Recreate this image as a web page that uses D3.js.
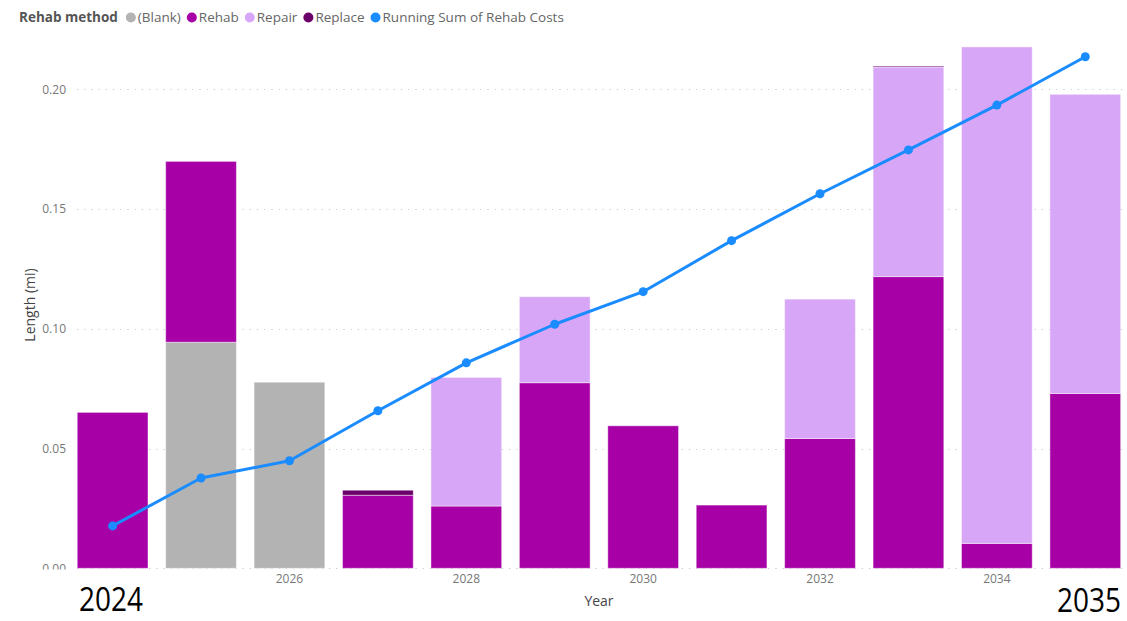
<!DOCTYPE html>
<html>
<head>
<meta charset="utf-8">
<script src="https://cdn.jsdelivr.net/npm/d3@7"></script>
<style>
  html, body { margin: 0; padding: 0; background: #fff; }
  svg { display: block; font-family: "Open Sans", "Noto Sans", sans-serif; }
</style>
</head>
<body>
<svg id="chart" width="1127" height="621"></svg>
<script>
// Years on the category axis
const years = [2024, 2025, 2026, 2027, 2028, 2029, 2030, 2031, 2032, 2033, 2034, 2035];

// Length (mi) per rehab method, one entry per year
const blank   = [0, 0.0944, 0.0777, 0, 0, 0, 0, 0, 0, 0, 0, 0];
const rehab   = [0.0651, 0.0755, 0, 0.0305, 0.0260, 0.0775, 0.0595, 0.0264, 0.0542, 0.1218, 0.0104, 0.0730];
const repair  = [0, 0, 0, 0, 0.0537, 0.0359, 0, 0, 0.0582, 0.0875, 0.2073, 0.1249];
const replace = [0, 0, 0, 0.0021, 0, 0, 0, 0, 0, 0.0004, 0, 0];

// Running sum of rehab costs
const runningSum = [0.0177, 0.0377, 0.0449, 0.0658, 0.0858, 0.1019, 0.1155, 0.1368, 0.1564, 0.1747, 0.1934, 0.2136];

// Axis ticks
const yTicks = [0, 0.05, 0.10, 0.15, 0.20];
const xTickYears = [2026, 2028, 2030, 2032, 2034];

const methods = ["(Blank)", "Rehab", "Repair", "Replace"];
const methodColors = ["#b3b3b3", "#a600a6", "#d7a6f6", "#6b006b"];
const lineColor = "#1a8cff";

const svg = d3.select("#chart");

const x = d3.scaleBand()
  .domain(years)
  .range([68.4, 1129.5])
  .paddingInner(0.2)
  .paddingOuter(0.1);

const y = d3.scaleLinear()
  .domain([0, 0.2])
  .range([568.3, 89.3]);

// Gridlines (dotted)
svg.append("g")
  .selectAll("line")
  .data(yTicks)
  .join("line")
  .attr("x1", 77)
  .attr("x2", 1127)
  .attr("y1", d => Math.round(y(d)) + 0.5)
  .attr("y2", d => Math.round(y(d)) + 0.5)
  .attr("stroke", "#c8c8c8")
  .attr("stroke-width", 1)
  .attr("stroke-dasharray", "1.2,6");

// Stacked bars
const rows = years.map((yr, i) => ({
  year: yr,
  "(Blank)": blank[i],
  "Rehab": rehab[i],
  "Repair": repair[i],
  "Replace": replace[i]
}));
const stack = d3.stack().keys(methods)(rows);

svg.append("g")
  .selectAll("g")
  .data(stack)
  .join("g")
  .attr("fill", (d, i) => methodColors[i])
  .selectAll("rect")
  .data(d => d.filter(s => s[1] - s[0] > 0))
  .join("rect")
  .attr("x", d => x(d.data.year))
  .attr("width", x.bandwidth())
  .attr("y", d => y(d[1]))
  .attr("height", d => y(d[0]) - y(d[1]))
  .attr("stroke", "rgba(255,255,255,0.45)")
  .attr("stroke-width", 1);

// Y axis labels
const yAxis = d3.axisLeft(y)
  .tickValues(yTicks)
  .tickFormat(d3.format(".2f"))
  .tickSize(0)
  .tickPadding(0);
const yg = svg.append("g")
  .attr("transform", "translate(66,0)")
  .call(yAxis);
yg.select(".domain").remove();
yg.selectAll("text")
  .attr("fill", "#777")
  .attr("font-size", 12)
  .attr("font-family", "\"Open Sans\", sans-serif");

// X axis labels
const xAxis = d3.axisBottom(x)
  .tickValues(xTickYears)
  .tickSize(0)
  .tickPadding(0);
const xg = svg.append("g")
  .attr("transform", "translate(0,574)")
  .call(xAxis);
xg.select(".domain").remove();
xg.selectAll("text")
  .attr("fill", "#777")
  .attr("font-size", 12)
  .attr("font-family", "\"Open Sans\", sans-serif");

// Running sum line
const line = d3.line()
  .x((d, i) => x(years[i]) + x.bandwidth() / 2)
  .y(d => y(d));

svg.append("path")
  .datum(runningSum)
  .attr("fill", "none")
  .attr("stroke", lineColor)
  .attr("stroke-width", 3)
  .attr("stroke-linejoin", "round")
  .attr("d", line);

svg.append("g")
  .selectAll("circle")
  .data(runningSum)
  .join("circle")
  .attr("cx", (d, i) => x(years[i]) + x.bandwidth() / 2)
  .attr("cy", d => y(d))
  .attr("r", 4.5)
  .attr("fill", lineColor);

// Axis titles
svg.append("text")
  .attr("x", 599)
  .attr("y", 606)
  .attr("text-anchor", "middle")
  .attr("font-size", 14)
  .attr("fill", "#444")
  .text("Year");

svg.append("text")
  .attr("transform", "translate(35,305) rotate(-90)")
  .attr("text-anchor", "middle")
  .attr("font-size", 14)
  .attr("fill", "#444")
  .text("Length (mi)");

// Legend
const legend = svg.append("g").attr("transform", "translate(19,22)");
const legTitle = legend.append("text")
  .attr("x", 0).attr("y", 0)
  .attr("font-size", 13.5)
  .attr("font-weight", "bold")
  .attr("fill", "#555")
  .text("Rehab method");

const legendItems = methods.map((m, i) => ({ label: m, color: methodColors[i] }))
  .concat([{ label: "Running Sum of Rehab Costs", color: lineColor }]);

let lx = legTitle.node().getComputedTextLength() + 13;
legendItems.forEach(item => {
  legend.append("circle")
    .attr("cx", lx)
    .attr("cy", -4.5)
    .attr("r", 5)
    .attr("fill", item.color);
  const t = legend.append("text")
    .attr("x", lx + 7)
    .attr("y", 0)
    .attr("font-size", 13.5)
    .attr("fill", "#666")
    .text(item.label);
  lx += 7 + t.node().getComputedTextLength() + 11;
});

// Start and end year annotations
const ann = svg.append("g");
ann.append("rect")
  .attr("x", 40).attr("y", 569.5)
  .attr("width", 110).attr("height", 51.5)
  .attr("fill", "#fff");
ann.append("text")
  .attr("x", 79).attr("y", 611)
  .attr("font-size", 32)
  .attr("fill", "#000")
  .attr("textLength", 64)
  .attr("lengthAdjust", "spacingAndGlyphs")
  .text("2024");
ann.append("text")
  .attr("x", 1057).attr("y", 612)
  .attr("font-size", 32)
  .attr("fill", "#000")
  .attr("textLength", 64)
  .attr("lengthAdjust", "spacingAndGlyphs")
  .text("2035");
</script>
</body>
</html>
